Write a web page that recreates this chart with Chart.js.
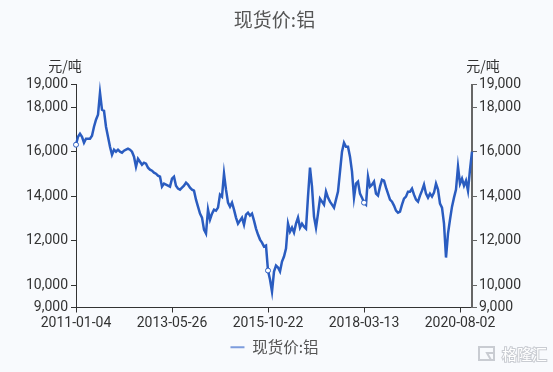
<!DOCTYPE html>
<html>
<head>
<meta charset="utf-8">
<script src="https://cdn.jsdelivr.net/npm/chart.js@4"></script>
<style>
  html, body { margin: 0; padding: 0; background: #f8fafd; }
  canvas { display: block; }
</style>
</head>
<body>
<canvas id="myChart" width="553" height="372"></canvas>
<script>
var seriesName = '现货价:铝';
var unitName = '元/吨';
var xTickLabels = ['2011-01-04', '2013-05-26', '2015-10-22', '2018-03-13', '2020-08-02'];
var yTicks = [9000, 10000, 12000, 14000, 16000, 18000, 19000];
// every 48th point gets a tick label
var tickStep = 48;
var markerPoints = [0, 96, 144];
var prices = [
  16310, 16668, 16803, 16668, 16399, 16579, 16579, 16579, 16713, 17117,
  17430, 17655, 18640, 17880, 17834, 17117, 16668, 16220, 15861, 16086,
  15996, 16086, 15996, 15951, 16041, 16086, 16130, 16086, 15996, 15772,
  15323, 15682, 15547, 15413, 15502, 15458, 15278, 15189, 15144, 15054,
  15010, 14919, 14875, 14426, 14561, 14516, 14471, 14426, 14785, 14875,
  14471, 14337, 14292, 14381, 14471, 14606, 14516, 14381, 14292, 14247,
  13843, 13530, 13216, 13037, 12498, 12319, 13395, 12947, 13216, 13395,
  13350, 13485, 14067, 13978, 15009, 14292, 13709, 13530, 13709, 13395,
  13037, 12767, 12902, 13037, 12722, 13171, 13260, 13126, 13216, 12902,
  12543, 12274, 12050, 11915, 11736, 11781, 10660, 10256, 9718, 10615,
  10884, 10794, 10615, 11063, 11288, 11646, 12767, 12408, 12588, 12363,
  12767, 13037, 12588, 12767, 12633, 12543, 13978, 15278, 14426, 13081,
  12588, 13216, 13888, 13754, 13619, 14202, 13933, 13754, 13619, 13485,
  13843, 14202, 15099, 15996, 16399, 16220, 16220, 15772, 15099, 13933,
  14561, 14650, 14112, 13933, 13709, 13619, 14875, 14426, 14516, 14650,
  14112, 14023, 14426, 14740, 14695, 14381, 14112, 13843, 13754, 13574,
  13350, 13260, 13305, 13619, 13888, 13978, 14202, 14202, 14337, 14067,
  13843, 13754, 14023, 14247, 14516, 14112, 13933, 14112, 13978, 14157,
  14561, 14292, 13664, 13485, 12767, 11243, 12319, 12947, 13530, 13933,
  14292, 15323, 14561, 14785, 14471, 14695, 14247, 15189, 15996
];

var categories = prices.map(function (p, i) {
  return i % tickStep == 0 ? xTickLabels[i / tickStep] : '';
});

var lineColor = '#2a5cc0';
var latin = 'Roboto, "Noto Sans CJK SC", sans-serif';
var cjk = '"Noto Sans CJK SC", sans-serif';

function setYTicks(axis) {
  axis.ticks = yTicks.map(function (v) { return { value: v }; });
}

function money(v) {
  return v.toLocaleString('en-US');
}

// unit names above the axes and the watermark in the corner
var extras = {
  id: 'extras',
  afterDraw: function (chart) {
    var c = chart.ctx, area = chart.chartArea;
    c.save();
    c.font = '14px ' + cjk;
    c.fillStyle = '#333';
    c.textAlign = 'center';
    c.textBaseline = 'middle';
    c.fillText(unitName, area.left - 11, 66);
    c.fillText(unitName, area.right + 11, 66);

    c.strokeStyle = '#c9ccd2';
    c.lineWidth = 2;
    c.strokeRect(479, 347, 15, 13);
    c.beginPath();
    c.moveTo(494, 353);
    c.lineTo(487, 353);
    c.lineTo(491, 360);
    c.stroke();
    c.font = '15px ' + cjk;
    c.textAlign = 'left';
    c.lineWidth = 2;
    c.strokeText('格隆汇', 502, 354);
    c.fillStyle = '#ffffff';
    c.fillText('格隆汇', 502, 354);
    c.restore();
  }
};

var ctx = document.getElementById('myChart');
var myChart = new Chart(ctx, {
  type: 'line',
  plugins: [extras],
  data: {
    labels: categories,
    datasets: [{
      label: seriesName,
      data: prices,
      yAxisID: 'y',
      borderColor: lineColor,
      backgroundColor: lineColor,
      borderWidth: 2.5,
      tension: 0,
      clip: false,
      pointRadius: function (c) { return markerPoints.indexOf(c.dataIndex) >= 0 ? 2.5 : 0; },
      pointBackgroundColor: '#ffffff',
      pointBorderColor: lineColor,
      pointBorderWidth: 1
    }]
  },
  options: {
    responsive: false,
    animation: false,
    layout: { padding: { top: 0, bottom: 7, left: 0, right: 4 } },
    plugins: {
      tooltip: { enabled: false },
      title: {
        display: true,
        text: seriesName,
        color: '#555',
        font: { family: cjk, size: 19, weight: 'normal' },
        padding: { top: 8, bottom: 54 }
      },
      legend: {
        position: 'bottom',
        labels: {
          color: '#555',
          font: { family: cjk, size: 15.5 },
          boxWidth: 14,
          boxHeight: 2,
          padding: 6,
          generateLabels: function (chart) {
            return Chart.defaults.plugins.legend.labels.generateLabels(chart).map(function (l) {
              l.lineWidth = 0;
              l.fillStyle = '#7d9cdd';
              return l;
            });
          }
        }
      }
    },
    scales: {
      x: {
        offset: false,
        grid: { drawOnChartArea: false, tickLength: 5, color: '#333' },
        border: { color: '#333' },
        afterBuildTicks: function (axis) {
          axis.ticks = xTickLabels.map(function (l, i) { return { value: i * tickStep }; });
        },
        afterFit: function (axis) { axis.height = 26; },
        ticks: {
          autoSkip: false,
          maxRotation: 0,
          color: '#333',
          font: { family: latin, size: 14 },
          padding: 3
        }
      },
      y: {
        position: 'left',
        min: 9000,
        max: 19000,
        afterBuildTicks: setYTicks,
        afterFit: function (axis) { axis.width = 76; },
        grid: { drawOnChartArea: false, tickLength: 5, color: '#333' },
        border: { color: '#333' },
        ticks: { color: '#333', font: { family: latin, size: 14 }, padding: 3, callback: money }
      },
      y2: {
        position: 'right',
        min: 9000,
        max: 19000,
        afterBuildTicks: setYTicks,
        afterFit: function (axis) { axis.width = 77; },
        grid: { drawOnChartArea: false, tickLength: 5, color: '#666' },
        border: { color: '#666', width: 2 },
        ticks: { color: '#333', font: { family: latin, size: 14 }, padding: 2, callback: money }
      }
    }
  }
});
</script>
</body>
</html>
